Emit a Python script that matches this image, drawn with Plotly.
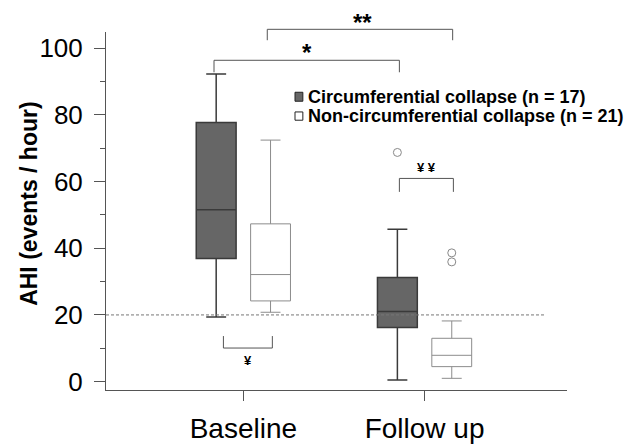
import plotly.graph_objects as go

# ---- data ----
groups = ["Baseline", "Follow up"]

circ_name = "Circumferential collapse (n = 17)"
circ_q1 = [36.9, 16.2]
circ_median = [51.5, 21.0]
circ_q3 = [77.7, 31.2]
circ_lower = [19.4, 0.5]
circ_upper = [92.2, 45.7]
circ_outliers = [[], [68.7]]

noncirc_name = "Non-circumferential collapse (n = 21)"
noncirc_q1 = [24.2, 4.5]
noncirc_median = [32.1, 7.9]
noncirc_q3 = [47.3, 13.0]
noncirc_lower = [20.8, 1.0]
noncirc_upper = [72.4, 18.2]
noncirc_outliers = [[], [38.6, 35.9]]

ahi_threshold = 20
y_ticks = [0, 20, 40, 60, 80, 100]
y_title = "AHI (events / hour)"

# ---- styling / layout constants ----
FONT = "Liberation Sans, Arial, sans-serif"
DARK = "#666666"
AXIS = "#555555"
GROUP_OFFSET = 0.15   # half distance between paired boxes (axis units)
BOX_WIDTH = 0.22

idx = list(range(len(groups)))

fig = go.Figure()

series = [
    (circ_name, -GROUP_OFFSET, circ_q1, circ_median, circ_q3, circ_lower, circ_upper,
     circ_outliers, DARK, "#3a3a3a", 1.5),
    (noncirc_name, GROUP_OFFSET, noncirc_q1, noncirc_median, noncirc_q3, noncirc_lower,
     noncirc_upper, noncirc_outliers, "white", "#8c8c8c", 1),
]

for name, off, q1, med, q3, lo, hi, outl, fill, lc, lw in series:
    xpos = [i + off for i in idx]
    fig.add_trace(go.Box(
        name=name, x=xpos,
        q1=q1, median=med, q3=q3, lowerfence=lo, upperfence=hi,
        width=BOX_WIDTH, whiskerwidth=0.5,
        fillcolor=fill, line=dict(color=lc, width=lw),
        boxpoints=False, showlegend=False, hoverinfo="y",
    ))
    ox, oy = [], []
    for i, vals in zip(idx, outl):
        for v in vals:
            ox.append(i + off)
            oy.append(v)
    fig.add_trace(go.Scatter(
        x=ox, y=oy, mode="markers", name=name + " outliers", showlegend=False,
        marker=dict(symbol="circle-open", size=8, color="#888888", line=dict(width=1)),
    ))

shapes = []
# AHI threshold reference line
shapes.append(dict(type="line", xref="paper", yref="y", x0=0, x1=0.954,
                   y0=ahi_threshold, y1=ahi_threshold,
                   line=dict(color="#777777", width=1, dash="3px,2px")))

def bracket(x0, x1, y_bar, y_leg):
    return dict(type="path", xref="x", yref="paper",
                path=f"M{x0},{y_leg} L{x0},{y_bar} L{x1},{y_bar} L{x1},{y_leg}",
                line=dict(color=AXIS, width=1))

shapes.append(bracket(-0.162, 0.861, 0.921, 0.8875))   # *
shapes.append(bracket(0.132, 1.155, 1.0075, 0.977))    # **
shapes.append(bracket(0.861, 1.159, 0.591, 0.5534))    # ¥¥
shapes.append(bracket(-0.110, 0.160, 0.1172, 0.1507))  # ¥

# legend squares
shapes.append(dict(type="rect", xref="paper", yref="paper", x0=0.410, x1=0.427,
                   y0=0.8066, y1=0.8317, fillcolor=DARK, line=dict(color="#222222", width=1)))
shapes.append(dict(type="rect", xref="paper", yref="paper", x0=0.410, x1=0.427,
                   y0=0.7536, y1=0.7767, fillcolor="white", line=dict(color="#222222", width=1)))

def label(text, x, y, size, xref="x", xanchor="center", angle=0):
    return dict(text=text, x=x, y=y, xref=xref, yref="paper", showarrow=False,
                xanchor=xanchor, yanchor="middle", textangle=angle,
                font=dict(family=FONT, size=size, color="black", weight="bold"))

annotations = [
    label("*", 0.350, 0.944, 24),
    label("**", 0.657, 1.027, 24),
    label("¥ ¥", 1.011, 0.6224, 13),
    label("¥", 0.028, 0.0837, 13),
    label(circ_name, 0.434, 0.8191, 18, xref="paper", xanchor="left"),
    label(noncirc_name, 0.434, 0.7647, 18, xref="paper", xanchor="left"),
    # y-axis title
    label(y_title, -0.167, 0.52, 23, xref="paper", angle=-90),
]

fig.update_layout(
    width=632, height=446, autosize=False,
    margin=dict(l=106, r=65, t=32, b=56),
    paper_bgcolor="white", plot_bgcolor="white",
    boxmode="overlay",
    showlegend=False,
    font=dict(family=FONT, color="black"),
    shapes=shapes, annotations=annotations,
    xaxis=dict(
        range=[-0.758, 1.786], tickvals=idx, ticktext=groups,
        automargin=False,
        showline=True, linecolor=AXIS, linewidth=1,
        ticks="outside", ticklen=10, tickcolor=AXIS, tickwidth=1,
        showgrid=False, zeroline=False,
        ticklabelstandoff=3,
        tickfont=dict(family=FONT, size=28, color="black"),
    ),
    yaxis=dict(
        range=[-2.5, 104.8], tickvals=y_ticks,
        automargin=False,
        showline=True, linecolor=AXIS, linewidth=1,
        ticks="outside", ticklen=11, tickcolor=AXIS, tickwidth=1,
        minor=dict(dtick=10, ticks="outside", ticklen=5, tickcolor=AXIS, tickwidth=1, showgrid=False),
        showgrid=False, zeroline=False,
        ticklabelstandoff=6,
        tickfont=dict(family=FONT, size=26, color="black"),
    ),
)

fig.write_html("out.html", config={"displayModeBar": False},
               post_script="document.body.style.margin='0';")
